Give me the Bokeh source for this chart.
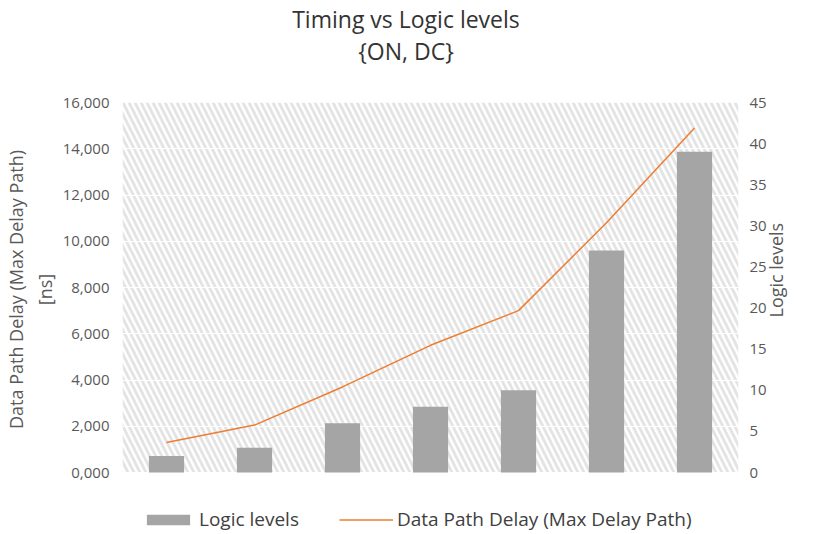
import math
from bokeh.plotting import figure
from bokeh.layouts import column
from bokeh.models import (Range1d, LinearAxis, FixedTicker, BoxAnnotation, Legend, LegendItem,
                          ColumnDataSource, Div)
from bokeh.embed import file_html
from bokeh.resources import INLINE

# ---- data ----
categories = [1, 2, 3, 4, 5, 6, 7]
logic_levels = [2, 3, 6, 8, 10, 27, 39]
data_path_delay = [1300, 2050, 3700, 5500, 7000, 10800, 14900]
left_ticks = [0, 2000, 4000, 6000, 8000, 10000, 12000, 14000, 16000]
left_tick_labels = ["0,000", "2,000", "4,000", "6,000", "8,000", "10,000", "12,000", "14,000", "16,000"]
right_ticks = [0, 5, 10, 15, 20, 25, 30, 35, 40, 45]
title_lines = ["Timing vs Logic levels", "{ON, DC}"]
left_label_lines = ["Data Path Delay (Max Delay Path)", "[ns]"]

FONT = "Open Sans"
TICK_COLOR = "#595959"

# layout (pixels)
W = 802
HEAD_H = 82            # title block height
H = 440                # figure height
TOP, LEFT, RIGHT = 10, 117, 53
PLOT_H = 370           # height of the value area (0..max)
EXTRA = H - TOP - PLOT_H  # space below zero used for the legend

L_MAX, R_MAX = 16000, 45
l_min = -EXTRA / PLOT_H * L_MAX
r_min = -EXTRA / PLOT_H * R_MAX

head = Div(text=('<div style="display:block;width:%dpx;text-align:center;font-family:\'Open Sans\';'
                 'font-size:23px;line-height:32px;color:#333333;margin-top:-2px;white-space:nowrap;">'
                 % W + "<br>".join(title_lines) + '</div>'),
           width=W, height=HEAD_H, styles={"text-align": "center", "width": "%dpx" % W})

p = figure(width=W, height=H, output_backend="svg", toolbar_location=None, title=None,
           x_range=Range1d(0.5, 7.5), y_range=Range1d(l_min, L_MAX),
           x_axis_location=None,
           min_border_left=LEFT, min_border_right=RIGHT, min_border_top=TOP, min_border_bottom=0)
p.outline_line_color = None
p.background_fill_color = "white"
p.border_fill_color = "white"

# hatched background
bg = BoxAnnotation(left=0.5, right=7.5, bottom=0, top=L_MAX, fill_color="white",
                   fill_alpha=1.0, line_color=None, hatch_pattern="\\", hatch_color="#E4E4E4",
                   hatch_scale=12, hatch_weight=3, level="image")
p.add_layout(bg)

# grid
p.xgrid.visible = False
p.ygrid.grid_line_color = "white"
p.ygrid.grid_line_width = 1
p.ygrid.ticker = FixedTicker(ticks=left_ticks)

PAD = "\u00a0" * 12  # keeps the rotated label centred on the value area
yl = p.yaxis[0]
yl.ticker = FixedTicker(ticks=left_ticks)
yl.bounds = (0, L_MAX)
yl.major_label_overrides = {t: l for t, l in zip(left_ticks, left_tick_labels)}
yl.axis_line_color = None
yl.major_tick_line_color = None
yl.minor_tick_line_color = None
yl.major_tick_out = 0
yl.major_label_text_font = FONT
yl.major_label_text_font_size = "15px"
yl.major_label_text_color = TICK_COLOR
yl.major_label_standoff = 13
yl.axis_label = "\n".join(PAD + s for s in left_label_lines)
yl.axis_label_text_font = FONT
yl.axis_label_text_font_size = "18px"
yl.axis_label_text_font_style = "normal"
yl.axis_label_text_color = TICK_COLOR
yl.axis_label_standoff = 3

p.extra_y_ranges = {"levels": Range1d(r_min, R_MAX)}
yr = LinearAxis(y_range_name="levels", ticker=FixedTicker(ticks=right_ticks))
yr.bounds = (0, R_MAX)
yr.axis_line_color = None
yr.major_tick_line_color = None
yr.minor_tick_line_color = None
yr.major_tick_out = 0
yr.major_label_text_font = FONT
yr.major_label_text_font_size = "15px"
yr.major_label_text_color = TICK_COLOR
yr.major_label_standoff = 11
yr.axis_label = "Logic levels"
yr.axis_label_text_font = FONT
yr.axis_label_text_font_size = "18px"
yr.axis_label_text_font_style = "normal"
yr.axis_label_text_color = TICK_COLOR
yr.axis_label_text_baseline = "top"
yr.axis_label_standoff = 6
try:
    yr.axis_label_orientation = math.pi / 2
except Exception:
    pass
p.add_layout(yr, "right")

src = ColumnDataSource(dict(x=categories, lv=logic_levels, d=data_path_delay))
bars = p.vbar(x="x", top="lv", width=0.4, source=src, y_range_name="levels",
              fill_color="#A5A5A5", line_color=None)
line = p.line(x="x", y="d", source=src, line_color="#ED7D31", line_width=1.5)

legend = Legend(items=[LegendItem(label="Logic levels", renderers=[bars]),
                       LegendItem(label="Data Path Delay (Max Delay Path)", renderers=[line])],
                orientation="horizontal", location=(19, 0),
                label_text_font=FONT, label_text_font_size="19px", label_text_color="#404040",
                glyph_width=54, glyph_height=13, spacing=40, border_line_color=None,
                background_fill_alpha=0, margin=0, padding=3, label_standoff=4)
p.add_layout(legend)

layout = column(head, p, spacing=0)
open("out.html", "w").write(file_html(layout, INLINE))
